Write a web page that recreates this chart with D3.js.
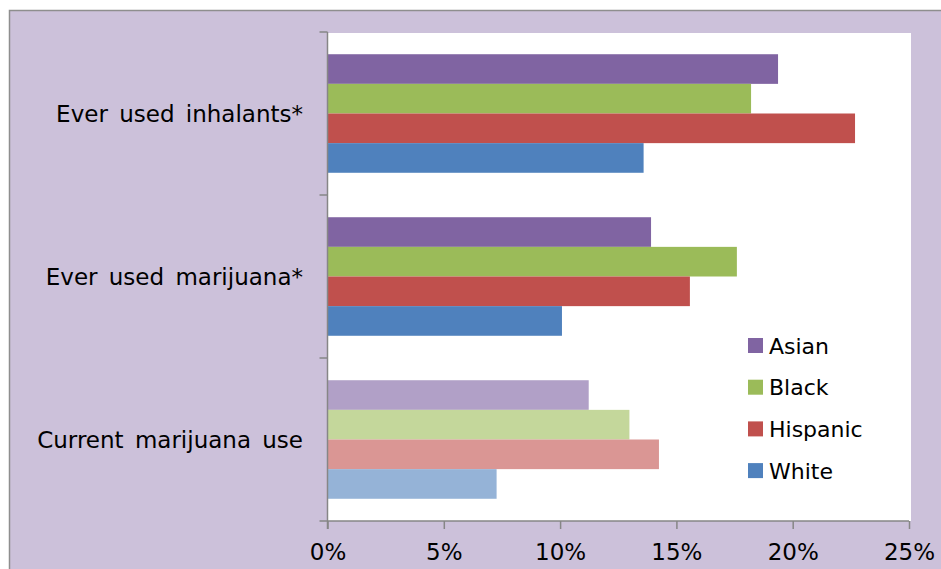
<!DOCTYPE html>
<html><head><meta charset="utf-8">
<script src="https://cdn.jsdelivr.net/npm/d3@7"></script>
<style>html,body{margin:0;padding:0;background:#fff;overflow:hidden}svg{display:block}text{font-family:"DejaVu Sans",Verdana,sans-serif;fill:#000}</style>
</head><body><svg id="c" width="941" height="569"></svg>
<script>
const categories = ["Ever used inhalants*", "Ever used marijuana*", "Current marijuana use"];
const seriesNames = ["Asian", "Black", "Hispanic", "White"];
const asian = [19.37, 13.91, 11.23];
const black = [18.21, 17.60, 12.98];
const hispanic = [22.68, 15.58, 14.25];
const white = [13.59, 10.08, 7.27];
const xTicks = [0, 5, 10, 15, 20, 25];

const colors = {Asian:"#8064A2", Black:"#9BBB59", Hispanic:"#C0504D", White:"#4F81BD"};
const lightColors = {Asian:"#B1A0C7", Black:"#C4D79B", Hispanic:"#DA9694", White:"#95B3D7"};
const seriesVals = {Asian:asian, Black:black, Hispanic:hispanic, White:white};

const svg = d3.select("#c");
svg.append("rect").attr("x",9.5).attr("y",10.5).attr("width",960).attr("height",600)
  .attr("fill","#CCC1DA").attr("stroke","#8E8E8E").attr("stroke-width",1.5);

const L = 327.5, R = 909, T = 32, B = 521;
svg.append("rect").attr("x",L).attr("y",33).attr("width",911-L).attr("height",B-33).attr("fill","#fff");

const x = d3.scaleLinear().domain([0,25]).range([L,R]);
const y0 = d3.scaleBand().domain(categories).range([T,B]).paddingInner(0).paddingOuter(0);
// gap width 150%: bars occupy 4 of 5.5 units per band
const inner = d3.scaleBand().domain(seriesNames).range([0,y0.bandwidth()]).paddingInner(0).paddingOuter(0.75);

categories.forEach((c,ci)=>{
  seriesNames.forEach((s)=>{
    const v = seriesVals[s][ci];
    const col = ci===2 ? lightColors[s] : colors[s];
    svg.append("rect").attr("x",x(0)).attr("y",y0(c)+inner(s)).attr("width",x(v)-x(0)).attr("height",inner.bandwidth())
      .attr("fill",col);
  });
});

const axisColor = "#868686";
svg.append("line").attr("x1",L).attr("x2",L).attr("y1",T).attr("y2",B+8).attr("stroke",axisColor).attr("stroke-width",1.5);
const yTickPos = categories.map(c=>y0(c)).concat([B]);
yTickPos.forEach(p=>{
  svg.append("line").attr("x1",L-8).attr("x2",L).attr("y1",p).attr("y2",p).attr("stroke",axisColor).attr("stroke-width",1.5);
});
categories.forEach(c=>{
  svg.append("text").attr("x",303).attr("y",y0(c)+y0.bandwidth()/2).attr("text-anchor","end")
    .attr("dominant-baseline","central").attr("font-size",23).attr("word-spacing",4).text(c);
});

svg.append("line").attr("x1",L).attr("x2",R).attr("y1",B).attr("y2",B).attr("stroke",axisColor).attr("stroke-width",1.5);
const xa = svg.append("g").attr("transform",`translate(0,${B})`)
  .call(d3.axisBottom(x).tickValues(xTicks).tickSize(8).tickFormat(d=>d+"%"));
xa.select(".domain").remove();
xa.selectAll(".tick line").attr("stroke",axisColor).attr("stroke-width",1.5);
xa.selectAll(".tick text").attr("font-size",23).attr("font-family","DejaVu Sans").attr("fill","#000").attr("y",23).attr("dy","0.71em");

seriesNames.forEach((s,i)=>{
  const ly = 338 + i*41.7;
  svg.append("rect").attr("x",748).attr("y",ly).attr("width",15).attr("height",15).attr("fill",colors[s]);
  svg.append("text").attr("x",769).attr("y",ly+8).attr("dominant-baseline","central").attr("font-size",22).text(s);
});
</script></body></html>
